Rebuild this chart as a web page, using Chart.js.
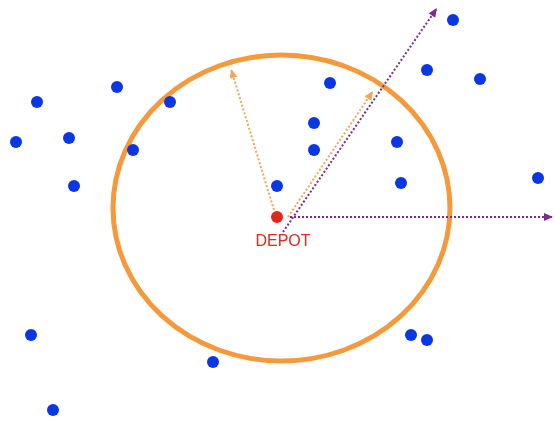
<!DOCTYPE html>
<html>
<head>
<meta charset="utf-8">
<script src="https://cdn.jsdelivr.net/npm/chart.js@4.4.0/dist/chart.umd.min.js"></script>
<style>
  html, body { margin: 0; padding: 0; background: #fff; }
  #wrap { width: 555px; height: 421px; }
</style>
</head>
<body>
<div id="wrap"><canvas id="myChart"></canvas></div>
<script>
// customers (plane coordinates, y downward)
const clienteX = [453, 427, 480, 330, 117, 37, 170, 314, 69, 16, 397, 133, 314, 401, 538, 74, 277, 31, 411, 427, 213, 53];
const clienteY = [20, 70, 79, 83, 87, 102, 102, 123, 138, 142, 142, 150, 150, 183, 178, 186, 186, 335, 335, 340, 362, 410];

// depot
const depotX = [277];
const depotY = [217];
const depotLabel = "DEPOT";

// service radius (ellipse in plane units)
const raioCentro = [281.5, 208];
const raioTamanho = [168.5, 153];

// arrows: [x0, y0, x1, y1]
const setasLaranja = [[274, 210, 231, 69], [288, 217, 373, 91]];
const setasRoxas = [[283, 232, 437, 8], [290, 217, 553, 217]];

const azul = '#0a36e6';
const vermelho = '#e0281c';
const laranja = '#f59a3c';
const laranjaSeta = '#f2a65a';
const roxo = '#7a2d8e';

function pontos(xs, ys) {
  return xs.map((x, i) => ({ x: x, y: ys[i] }));
}

function setaDataset(seta, cor) {
  return {
    type: 'line',
    data: [{ x: seta[0], y: seta[1] }, { x: seta[2], y: seta[3] }],
    borderColor: cor,
    borderWidth: 2,
    borderDash: [2, 2],
    pointRadius: 0,
    fill: false,
    seta: true,
    order: 3
  };
}

// ellipse + arrowheads + label
const desenhos = {
  id: 'desenhos',
  beforeDatasetsDraw(chart) {
    const ctx = chart.ctx;
    const sx = chart.scales.x, sy = chart.scales.y;
    const cx = sx.getPixelForValue(raioCentro[0]);
    const cy = sy.getPixelForValue(raioCentro[1]);
    const rx = Math.abs(sx.getPixelForValue(raioCentro[0] + raioTamanho[0]) - cx);
    const ry = Math.abs(sy.getPixelForValue(raioCentro[1] + raioTamanho[1]) - cy);
    ctx.save();
    ctx.beginPath();
    ctx.ellipse(cx, cy, rx, ry, 0, 0, Math.PI * 2);
    ctx.strokeStyle = laranja;
    ctx.lineWidth = 5;
    ctx.stroke();
    ctx.restore();
  },
  afterDatasetsDraw(chart) {
    const ctx = chart.ctx;
    chart.data.datasets.forEach((ds, i) => {
      if (!ds.seta) return;
      const pts = chart.getDatasetMeta(i).data;
      const a = pts[0], b = pts[1];
      const ang = Math.atan2(b.y - a.y, b.x - a.x);
      const L = 9, W = 4;
      ctx.save();
      ctx.translate(b.x, b.y);
      ctx.rotate(ang);
      ctx.beginPath();
      ctx.moveTo(0, 0);
      ctx.lineTo(-L, -W);
      ctx.lineTo(-L, W);
      ctx.closePath();
      ctx.fillStyle = ds.borderColor;
      ctx.fill();
      ctx.restore();
    });
    const sx = chart.scales.x, sy = chart.scales.y;
    ctx.save();
    ctx.font = '16px "Liberation Sans", Arial, sans-serif';
    ctx.fillStyle = vermelho;
    ctx.textAlign = 'center';
    ctx.textBaseline = 'middle';
    ctx.fillText(depotLabel, sx.getPixelForValue(depotX[0] + 6), sy.getPixelForValue(depotY[0] + 25));
    ctx.restore();
  }
};

const ctx = document.getElementById('myChart');
const myChart = new Chart(ctx, {
  type: 'scatter',
  data: {
    datasets: [
      setaDataset(setasLaranja[0], laranjaSeta),
      setaDataset(setasLaranja[1], laranjaSeta),
      setaDataset(setasRoxas[0], roxo),
      setaDataset(setasRoxas[1], roxo),
      {
        label: 'Clientes',
        data: pontos(clienteX, clienteY),
        backgroundColor: azul,
        borderColor: azul,
        borderWidth: 0,
        pointRadius: 6,
        order: 2
      },
      {
        label: 'Depot',
        data: pontos(depotX, depotY),
        backgroundColor: vermelho,
        borderColor: vermelho,
        borderWidth: 0,
        pointRadius: 6,
        order: 1
      }
    ]
  },
  options: {
    responsive: true,
    maintainAspectRatio: false,
    animation: false,
    layout: { padding: 0, autoPadding: false },
    plugins: { legend: { display: false }, tooltip: { enabled: false } },
    scales: {
      x: { type: 'linear', min: 0, max: 555, display: false },
      y: { type: 'linear', min: 0, max: 421, reverse: true, display: false }
    }
  },
  plugins: [desenhos]
});
</script>
</body>
</html>
